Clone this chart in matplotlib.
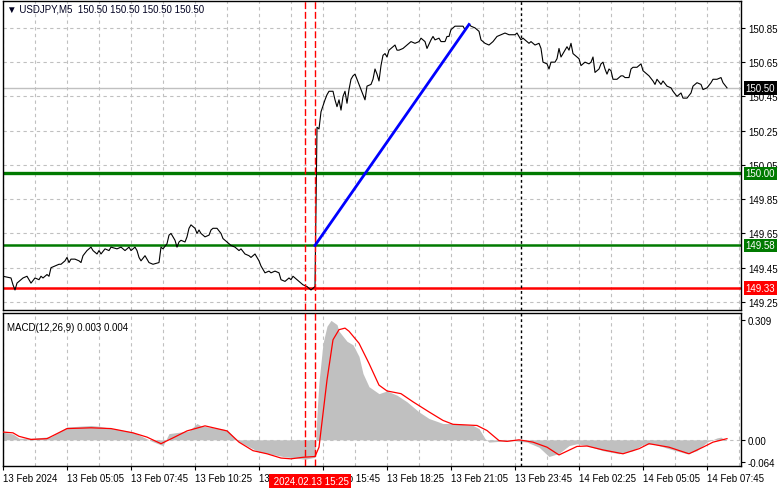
import matplotlib
matplotlib.use("Agg")
import matplotlib.pyplot as plt
import matplotlib.transforms as mtransforms

plt.rcParams['font.family'] = ['Liberation Sans', 'DejaVu Sans']

# USDJPY M5 closes (bar number -> price)
price_bar = [0, 4, 5, 6, 7, 9, 10, 12, 13, 14, 16, 18, 19, 20, 22, 23, 24, 26, 28, 29,
             31, 32, 33, 34, 36, 38, 39, 40, 42, 44, 45, 47, 48, 49, 51, 53, 54, 57, 59, 61,
             63, 64, 66, 67, 68, 69, 71, 73, 75, 78, 79, 80, 82, 83, 84, 85, 86, 87, 88, 89,
             91, 92, 93, 94, 96, 97, 98, 99, 101, 103, 104, 105, 107, 109, 110, 111, 113, 114, 116, 118,
             119, 121, 123, 124, 126, 128, 129, 131, 133, 134, 136, 138, 139, 141, 143, 144, 145, 147, 149, 150,
             152, 154, 155, 156, 157, 158, 159, 161, 162, 163, 165, 166, 167, 168, 169, 170, 171, 172, 173, 174,
             175, 176, 177, 178, 180, 181, 182, 184, 185, 186, 187, 188, 189, 190, 191, 192, 193, 194, 196, 197,
             198, 200, 202, 203, 204, 206, 208, 209, 211, 212, 214, 215, 216, 218, 219, 221, 222, 223, 224, 226,
             227, 228, 230, 231, 233, 234, 236, 238, 239, 241, 243, 245, 247, 249, 251, 253, 254, 256, 257, 259,
             260, 261, 263, 264, 266, 268, 269, 270, 272, 273, 274, 276, 277, 278, 279, 281, 282, 283, 284, 285,
             287, 288, 289, 291, 293, 294, 295, 296, 298, 299, 300, 301, 302, 303, 304, 305, 307, 309, 310, 311,
             313, 314, 315, 317, 319, 320, 322, 323, 325, 326, 327, 329, 330, 332, 334, 335, 337, 339, 340, 342,
             344, 345, 347, 349, 350, 352, 354, 355, 357, 359, 360, 362]
price_close = [149.40, 149.39, 149.35, 149.32, 149.36, 149.38, 149.39, 149.40, 149.38, 149.36,
               149.39, 149.38, 149.40, 149.39, 149.41, 149.40, 149.45, 149.46, 149.47, 149.47,
               149.49, 149.51, 149.48, 149.50, 149.50, 149.49, 149.48, 149.52, 149.55, 149.57,
               149.55, 149.53, 149.55, 149.53, 149.56, 149.55, 149.57, 149.56, 149.57, 149.55,
               149.57, 149.55, 149.57, 149.55, 149.51, 149.49, 149.52, 149.48, 149.47, 149.48,
               149.57, 149.56, 149.59, 149.64, 149.65, 149.63, 149.61, 149.57, 149.60, 149.61,
               149.60, 149.63, 149.68, 149.70, 149.68, 149.65, 149.67, 149.65, 149.63, 149.64,
               149.67, 149.68, 149.68, 149.65, 149.62, 149.61, 149.59, 149.58, 149.57, 149.55,
               149.56, 149.53, 149.52, 149.51, 149.53, 149.49, 149.46, 149.42, 149.43, 149.42,
               149.43, 149.42, 149.38, 149.37, 149.39, 149.38, 149.40, 149.38, 149.36, 149.35,
               149.34, 149.32, 149.33, 149.34, 150.27, 150.26, 150.36, 150.43, 150.46, 150.48,
               150.48, 150.43, 150.39, 150.43, 150.37, 150.45, 150.48, 150.41, 150.49, 150.55,
               150.57, 150.58, 150.55, 150.52, 150.46, 150.43, 150.51, 150.52, 150.55, 150.61,
               150.58, 150.54, 150.63, 150.69, 150.70, 150.68, 150.72, 150.73, 150.75, 150.72,
               150.72, 150.73, 150.75, 150.76, 150.77, 150.76, 150.77, 150.79, 150.77, 150.73,
               150.78, 150.80, 150.78, 150.79, 150.77, 150.77, 150.80, 150.80, 150.84, 150.86,
               150.86, 150.86, 150.86, 150.84, 150.87, 150.86, 150.85, 150.83, 150.78, 150.76,
               150.75, 150.77, 150.80, 150.81, 150.82, 150.81, 150.81, 150.81, 150.82, 150.78,
               150.79, 150.78, 150.76, 150.77, 150.75, 150.76, 150.73, 150.65, 150.64, 150.61,
               150.65, 150.65, 150.67, 150.73, 150.68, 150.72, 150.74, 150.72, 150.76, 150.70,
               150.68, 150.67, 150.63, 150.65, 150.64, 150.65, 150.68, 150.59, 150.61, 150.64,
               150.65, 150.61, 150.58, 150.61, 150.60, 150.55, 150.55, 150.57, 150.57, 150.56,
               150.56, 150.61, 150.62, 150.62, 150.64, 150.60, 150.58, 150.57, 150.54, 150.52,
               150.55, 150.52, 150.54, 150.51, 150.50, 150.48, 150.45, 150.47, 150.44, 150.44,
               150.47, 150.51, 150.53, 150.52, 150.49, 150.50, 150.53, 150.55, 150.55, 150.56,
               150.53, 150.50]

# MACD(12,26,9): histogram (main) and signal line
hist_bar = [0, 5, 8, 14, 24, 32, 44, 48, 65, 75, 80, 83, 93, 97, 99, 112, 118, 128, 140, 151,
            156, 157, 158, 160, 162, 164, 167, 168, 172, 175, 178, 180, 183, 188, 192, 197, 202, 208, 213, 220,
            225, 235, 238, 241, 243, 248, 255, 262, 268, 273, 278, 283, 287, 292, 300, 308, 315, 320, 325, 333,
            342, 347, 352, 357, 359, 361]
hist_val = [0.020, 0.015, 0.004, 0.004, 0.008, 0.033, 0.037, 0.035, 0.020, -0.005,
            -0.015, 0.016, 0.023, 0.042, 0.036, 0.026, -0.005, -0.031, -0.043, -0.050,
            -0.045, 0.068, 0.150, 0.249, 0.293, 0.308, 0.297, 0.280, 0.254, 0.245,
            0.215, 0.171, 0.137, 0.119, 0.126, 0.115, 0.098, 0.072, 0.055, 0.042,
            0.042, 0.037, 0.029, 0.003, -0.006, -0.004, -0.002, -0.006, -0.019, -0.043,
            -0.035, -0.015, -0.010, -0.015, -0.028, -0.036, -0.028, -0.012, -0.010, -0.023,
            -0.036, -0.028, -0.006, 0.005, 0.007, 0.000]
signal_bar = [0, 5, 8, 14, 22, 32, 44, 54, 65, 72, 79, 85, 92, 101, 112, 118, 125, 132, 139, 144,
              150, 156, 158, 162, 165, 168, 171, 173, 178, 183, 188, 192, 199, 205, 213, 220, 225, 237, 242, 248,
              252, 258, 265, 272, 278, 287, 292, 300, 310, 318, 323, 333, 343, 350, 355, 362]
signal_val = [0.020, 0.018, 0.009, 0.001, 0.003, 0.029, 0.031, 0.029, 0.018, 0.007,
              -0.010, 0.005, 0.023, 0.036, 0.023, -0.006, -0.028, -0.036, -0.047, -0.049,
              -0.045, -0.043, -0.019, 0.154, 0.258, 0.284, 0.288, 0.280, 0.249, 0.197,
              0.141, 0.126, 0.119, 0.098, 0.072, 0.050, 0.040, 0.037, 0.024, -0.002,
              -0.004, 0.000, -0.006, -0.019, -0.039, -0.017, -0.016, -0.026, -0.036, -0.023,
              -0.010, -0.019, -0.036, -0.019, -0.006, 0.003]

time_ticks = [0, 32, 64, 96, 128, 160, 192, 224, 256, 288, 320, 352]
time_labels = ["13 Feb 2024", "13 Feb 05:05", "13 Feb 07:45", "13 Feb 10:25", "13 Feb 13:05",
               "13 Feb 15:45", "13 Feb 18:25", "13 Feb 21:05", "13 Feb 23:45", "14 Feb 02:25",
               "14 Feb 05:05", "14 Feb 07:45"]
price_ticks = [149.25, 149.45, 149.65, 149.85, 150.05, 150.25, 150.45, 150.65, 150.85]

bid = 150.50
resist = 150.00
entry = 149.58
support = 149.33
trend_bar = [156, 233]
trend_price = [149.58, 150.87]
event_bars = [151, 156]
cursor_bar = 259

grid_kw = dict(color='#c0c0c0', lw=0.8, linestyle=(0, (3, 3)), zorder=0)
W, H = 781, 489
fig = plt.figure(figsize=(W / 100, H / 100), dpi=100)
ax = fig.add_axes([3 / W, 1 - 311 / H, 738 / W, 309 / H])
mx = fig.add_axes([3 / W, 1 - 467 / H, 738 / W, 153 / H])

for a in (ax, mx):
    a.set_xlim(0, 369)
    for g in range(0, 369, 16):
        a.axvline(g, **grid_kw)
    for b in event_bars:
        a.axvline(b, color='red', lw=1, linestyle=(0, (5, 2)), zorder=4)
    a.axvline(cursor_bar, color='black', lw=1, linestyle=(0, (2, 2)), zorder=4)
    a.yaxis.tick_right()
    a.tick_params(axis='y', which='both', length=3, pad=2, labelsize=7, direction='out', left=False)
    for s in a.spines.values():
        s.set_color('black')
        s.set_linewidth(1)

# price panel
ax.set_ylim(149.203, 151.007)
for p in price_ticks:
    ax.axhline(p, **grid_kw)
ax.set_yticks(price_ticks)
ax.set_yticklabels(['%.2f' % p for p in price_ticks])
ax.set_xticks([])
ax.axhline(bid, color='#c0c0c0', lw=1, zorder=1)
ax.axhline(resist, color='#007a00', lw=2.4, zorder=2)
ax.axhline(entry, color='#007a00', lw=1.8, zorder=2)
ax.axhline(support, color='#ff0000', lw=1.8, zorder=2)
ax.plot(price_bar, price_close, color='black', lw=0.8, zorder=3)
ax.plot(trend_bar, trend_price, color='#0000ff', lw=2, zorder=5)

tr = mtransforms.blended_transform_factory(ax.transAxes, ax.transData)
for val, col in [(bid, 'black'), (resist, '#007a00'), (entry, '#007a00'), (support, '#ff0000')]:
    ax.text(1.006, val, '%.2f' % val, transform=tr, ha='left', va='center', fontsize=7,
            color='white', clip_on=False, zorder=10,
            bbox=dict(boxstyle='square,pad=0.18', fc=col, ec='none'))

# MACD panel
mx.set_ylim(-0.0675, 0.327)
mx.axhline(0, **grid_kw)
mx.fill_between(hist_bar, 0, hist_val, color='#c0c0c0', lw=0, zorder=1)
mx.plot(signal_bar, signal_val, color='#ff0000', lw=0.9, zorder=3)
mx.set_yticks([0.309, 0.0, -0.057])
mx.set_yticklabels(['0.309', '0.00', '-0.064'])
mx.set_xticks(time_ticks)
mx.set_xticklabels(time_labels, fontsize=7, ha='left')
mx.tick_params(axis='x', length=3, pad=2, direction='out')
mx.text(2, 0.29, 'MACD(12,26,9) 0.003 0.004', fontsize=7, ha='left', va='center', zorder=6)
mx.text(134, -0.106, ' 2024.02.13 15:25', fontsize=7, ha='left', va='center', color='white',
        clip_on=False, zorder=10,
        bbox=dict(boxstyle='square,pad=0.25', fc='#ff0000', ec='none'))

fig.text(7 / W, 1 - 10 / H, '\u25bc USDJPY,M5  150.50 150.50 150.50 150.50', fontsize=7,
         ha='left', va='center', color='#000020')

fig.savefig('out.png', dpi=100)
